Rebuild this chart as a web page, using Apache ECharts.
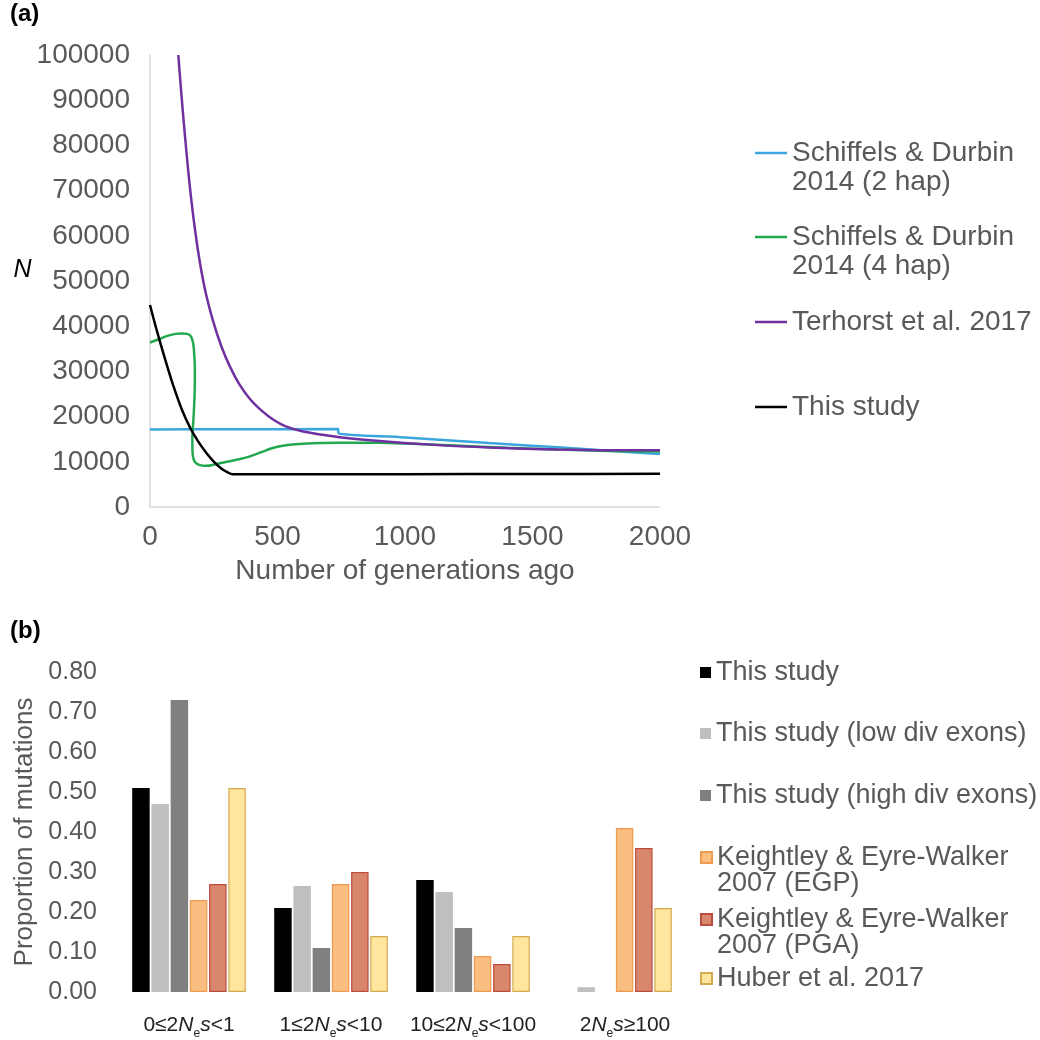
<!DOCTYPE html>
<html>
<head>
<meta charset="utf-8">
<script src="https://cdn.jsdelivr.net/npm/echarts@6/dist/echarts.min.js"></script>
<style>
html,body{margin:0;padding:0;background:#fff;}
#chart{width:1040px;height:1040px;}
</style>
</head>
<body>
<div id="chart"></div>
<script>
// ---------- Panel (a) data: generations ago vs N ----------
const blueGen = [0, 300, 737, 739, 1000, 1329, 1600, 1800, 2000];
const blueN   = [17150, 17200, 17250, 16300, 15400, 14150, 13200, 12450, 11700];

const greenGen = [0, 30, 65, 100, 124, 145, 157, 166, 172, 176, 175, 171, 166, 167, 172, 185, 205, 222, 260, 301, 345, 392, 440, 484, 540, 600, 737, 900, 1000, 1200, 1400, 1600, 1800, 2000];
const greenN   = [36400, 37000, 37800, 38300, 38400, 38300, 38000, 37000, 35000, 30000, 25000, 20000, 15000, 12000, 10400, 9500, 9150, 9100, 9500, 10000, 10500, 11200, 12200, 13100, 13700, 14000, 14200, 14200, 14050, 13600, 13100, 12700, 12400, 12300];

const purpleGen = [111, 120, 131, 143, 157, 175, 196, 220, 248, 280, 314, 350, 392, 440, 484, 530, 600, 737, 900, 1100, 1329, 1600, 1800, 2000];
const purpleN   = [100000, 93500, 86000, 78500, 70500, 62000, 54000, 47000, 41000, 35500, 31000, 27200, 23900, 21200, 19300, 17900, 16700, 15500, 14600, 13800, 13150, 12700, 12550, 12550];

const blackGen = [0, 20, 39, 65, 91, 124, 157, 190, 222, 250, 281, 305, 324, 500, 1000, 1500, 2000];
const blackN   = [44700, 40400, 36600, 31600, 26900, 21700, 17600, 14400, 11900, 10050, 8450, 7650, 7250, 7230, 7250, 7300, 7350];

const lineNames = ['Schiffels & Durbin 2014 (2 hap)', 'Schiffels & Durbin 2014 (4 hap)', 'Terhorst et al. 2017', 'This study'];

// ---------- Panel (b) data: proportion of mutations ----------
const catPrefix = ['0≤2', '1≤2', '10≤2', '2'];
const catSuffix = ['<1', '<10', '<100', '≥100'];
const categories = catPrefix.map((p, i) => p + 'Nes' + catSuffix[i]);

const barNames = ['This study', 'This study (low div exons)', 'This study (high div exons)',
                  'Keightley & Eyre-Walker 2007 (EGP)', 'Keightley & Eyre-Walker 2007 (PGA)', 'Huber et al. 2017'];
const thisStudy = [0.51, 0.21, 0.28, 0.00];
const lowDiv    = [0.47, 0.265, 0.25, 0.012];
const highDiv   = [0.73, 0.11, 0.16, 0.00];
const egp       = [0.23, 0.27, 0.09, 0.41];
const pga       = [0.27, 0.30, 0.07, 0.36];
const huber     = [0.51, 0.14, 0.14, 0.21];

const yTicksB = [0, 0.1, 0.2, 0.3, 0.4, 0.5, 0.6, 0.7, 0.8];

// ---------- build ----------
const FONT = '"Liberation Sans", Arial, Helvetica, sans-serif';
const GREY = '#595959';
const zip = (xs, ys) => xs.map((x, i) => [x, ys[i]]);

const lineColors = ['#3AA6DD', '#22A94F', '#7030A0', '#000000'];
const lineData = [zip(blueGen, blueN), zip(greenGen, greenN), zip(purpleGen, purpleN), zip(blackGen, blackN)];

const barFill   = ['#000000', '#BFBFBF', '#808080', '#F9BE80', '#D8866C', '#FFE59E'];
const barBorder = ['#000000', '#BFBFBF', '#808080', '#EE9A50', '#BE4B40', '#D4AA50'];
const barValues = [thisStudy, lowDiv, highDiv, egp, pga, huber];

const lineSeries = lineNames.map((name, i) => ({
  name, type: 'line', xAxisIndex: 0, yAxisIndex: 0,
  data: lineData[i], showSymbol: false, symbol: 'none',
  smooth: 0.3,
  lineStyle: { color: lineColors[i], width: 2.5 },
  itemStyle: { color: lineColors[i] },
  z: i === 3 ? 5 : 3
}));

const barSeries = barNames.map((name, i) => ({
  name, type: 'bar', xAxisIndex: 1, yAxisIndex: 1,
  data: barValues[i],
  barGap: '10%', barCategoryGap: '20%',
  itemStyle: { color: barFill[i], borderColor: barBorder[i], borderWidth: i >= 3 ? 1.2 : 0 }
}));

// legends (one per item for exact placement); two-line entries get a blank
// leading line so that the key sits beside the first line of text
const legendsA = [
  { name: lineNames[0], c: 153, two: true },
  { name: lineNames[1], c: 237, two: true },
  { name: lineNames[2], c: 322, two: false },
  { name: lineNames[3], c: 407, two: false }
].map(o => ({
  data: [o.name], left: 755, top: o.two ? o.c - 43.5 : o.c - 14.5, padding: 0,
  icon: 'rect', itemWidth: 32, itemHeight: 2.5, selectedMode: false,
  itemStyle: { borderWidth: 0 },
  formatter: n => o.two ? ' \n' + n.replace(' 2014', '\n2014') : n,
  textStyle: { fontFamily: FONT, fontSize: 28, color: GREY, lineHeight: 29 }
}));

const legendsB = [
  { name: barNames[0], c: 672, two: false },
  { name: barNames[1], c: 733, two: false },
  { name: barNames[2], c: 795, two: false },
  { name: barNames[3], c: 857, two: true },
  { name: barNames[4], c: 919, two: true },
  { name: barNames[5], c: 978, two: false }
].map(o => ({
  data: [o.name], left: 700, top: o.two ? o.c - 39 : o.c - 13, padding: 0,
  icon: 'rect', itemWidth: 11, itemHeight: 11, selectedMode: false,
  formatter: n => o.two ? ' \n' + n.replace(' 2007', '\n2007') : n,
  textStyle: { fontFamily: FONT, fontSize: 27, color: GREY, lineHeight: 26 }
}));

const option = {
  animation: false,
  backgroundColor: '#ffffff',
  textStyle: { fontFamily: FONT },
  title: [
    { text: '(a)', left: 10, top: 2, padding: 0, textStyle: { fontFamily: FONT, fontSize: 24, fontWeight: 'bold', color: '#000' } },
    { text: '(b)', left: 10, top: 619, padding: 0, textStyle: { fontFamily: FONT, fontSize: 24, fontWeight: 'bold', color: '#000' } }
  ],
  legend: legendsA.concat(legendsB),
  grid: [
    { left: 150, top: 55, width: 510, height: 452, containLabel: false },
    { left: 118, top: 672, width: 568, height: 320, containLabel: false }
  ],
  xAxis: [
    {
      gridIndex: 0, type: 'value', min: 0, max: 2000, interval: 500,
      name: 'Number of generations ago', nameLocation: 'middle', nameGap: 50,
      nameTextStyle: { fontFamily: FONT, fontSize: 28, color: GREY },
      axisLine: { show: true, lineStyle: { color: '#D9D9D9', width: 1.5 } },
      axisTick: { show: false }, splitLine: { show: false },
      axisLabel: { fontFamily: FONT, fontSize: 28, color: GREY, margin: 16, formatter: v => String(v) }
    },
    {
      gridIndex: 1, type: 'category', data: categories,
      axisLine: { show: false }, axisTick: { show: false }, splitLine: { show: false },
      axisLabel: {
        margin: 18, interval: 0,
        formatter: (v, idx) => (idx === 3 ? '{p|' : '{r|') + catPrefix[idx] + '}{i|N}{e|e}{i|s}{r|' + catSuffix[idx] + '}',
        rich: {
          r: { fontFamily: FONT, fontSize: 21, color: '#222', lineHeight: 30, verticalAlign: 'middle' },
          p: { fontFamily: FONT, fontSize: 21, color: '#222', lineHeight: 30, verticalAlign: 'middle', padding: [0, 0, 0, 20] },
          i: { fontFamily: FONT, fontSize: 21, color: '#222', lineHeight: 30, verticalAlign: 'middle', fontStyle: 'italic' },
          e: { fontFamily: FONT, fontSize: 12, color: '#222', lineHeight: 12, verticalAlign: 'bottom' }
        }
      }
    }
  ],
  yAxis: [
    {
      gridIndex: 0, type: 'value', min: 0, max: 100000, interval: 10000,
      name: 'N', nameLocation: 'middle', nameRotate: 0, nameGap: 110,
      nameTextStyle: { fontFamily: FONT, fontSize: 25, color: '#000', fontStyle: 'italic', verticalAlign: 'bottom', lineHeight: 22 },
      axisLine: { show: true, lineStyle: { color: '#D9D9D9', width: 1.5 } },
      axisTick: { show: false }, splitLine: { show: false },
      axisLabel: { fontFamily: FONT, fontSize: 28, color: GREY, margin: 20, formatter: v => String(v) }
    },
    {
      gridIndex: 1, type: 'value', min: 0, max: 0.8, interval: 0.1,
      name: 'Proportion of mutations', nameLocation: 'middle', nameGap: 57,
      nameTextStyle: { fontFamily: FONT, fontSize: 26, color: GREY },
      axisLine: { show: false }, axisTick: { show: false }, splitLine: { show: false },
      axisLabel: {
        fontFamily: FONT, fontSize: 25, color: GREY, margin: 21,
        formatter: v => {
          const t = yTicksB.find(k => Math.abs(k - v) < 1e-9);
          return (t !== undefined ? t : v).toFixed(2);
        }
      }
    }
  ],
  series: lineSeries.concat(barSeries)
};

const chart = echarts.init(document.getElementById('chart'), null, { renderer: 'canvas' });
chart.setOption(option);
</script>
</body>
</html>
